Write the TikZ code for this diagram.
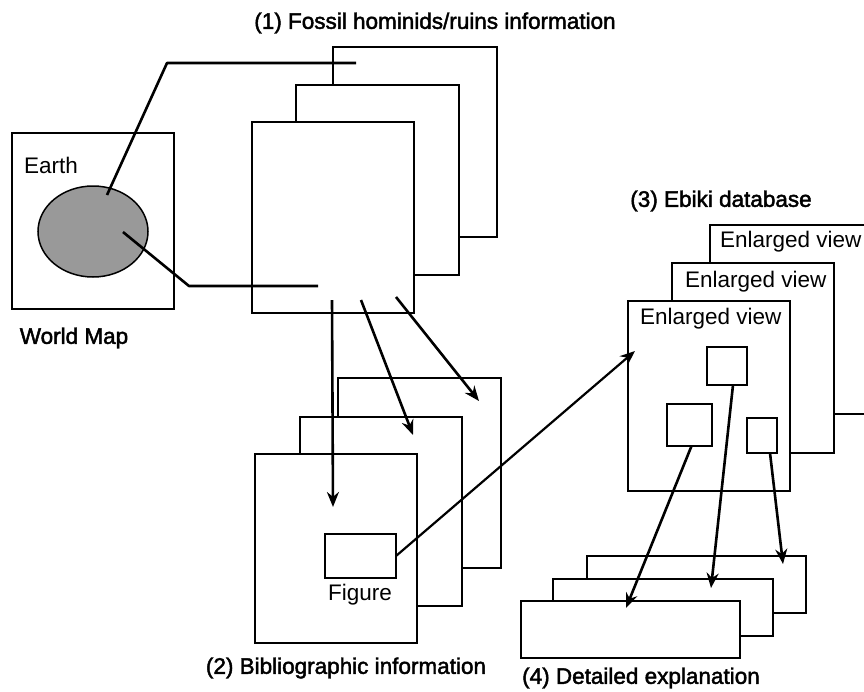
\documentclass[tikz,border=0pt]{standalone}
\usepackage{fontspec}
\setmainfont{Liberation Sans}
\newfontfamily\headfont{Liberation Sans}[FakeBold=2]
\usetikzlibrary{arrows.meta,calc,shapes.geometric}
\definecolor{earthgray}{RGB}{153,153,153}
\begin{document}
\begin{tikzpicture}[x=1pt,y=-1pt,
  pg/.style={draw,line width=2.2pt,fill=white,rectangle,inner sep=0pt,outer sep=0pt},
  conn/.style={line width=2.6pt,line join=round},
  arr/.style={conn,-{Stealth[length=15pt,width=12pt]}},
  lbl/.style={font=\fontsize{22.5}{26}\selectfont,inner sep=0pt},
  head/.style={font=\headfont\fontsize{22.5}{26}\selectfont,inner sep=0pt}]
\useasboundingbox (0,0) rectangle (864,691);
\clip (0,0) rectangle (864,691);
\fill[white] (0,0) rectangle (864,691);

% World map
\node[pg,minimum width=162pt,minimum height=176pt] (map) at (93,221) {};
\node[lbl,anchor=west] (earthlbl) at (24,165) {Earth};
\node[draw,ellipse,line width=1.5pt,fill=earthgray,minimum width=110pt,minimum height=91pt,inner sep=0pt] (earth) at (93,231.5) {};
\node[head] (maplbl) at (74,338) {World Map};

% (1) Fossil hominids/ruins information
\node[head] (t1) at (435,23) {(1) Fossil hominids/ruins information};
\node[pg,minimum width=164pt,minimum height=190pt] (s1c) at (415,142) {};
\node[pg,minimum width=163pt,minimum height=190pt] (s1b) at (377.5,180) {};
\node[pg,minimum width=162pt,minimum height=191pt] (s1a) at (333,217.5) {};

% (2) Bibliographic information
\node[pg,minimum width=163pt,minimum height=190pt] (s2c) at (419.5,473) {};
\node[pg,minimum width=162pt,minimum height=189pt] (s2b) at (381,511.5) {};
\node[pg,minimum width=162pt,minimum height=189pt] (s2a) at (336,548.5) {};
\node[pg,minimum width=71pt,minimum height=44pt] (fig) at (360.5,556) {};
\node[lbl] (figlbl) at (360,595) {Figure};
\node[head] (t2) at (346,668) {(2) Bibliographic information};

% (3) Ebiki database
\node[head] (t3) at (721,201) {(3) Ebiki database};
\node[pg,minimum width=162pt,minimum height=189pt] (s3c) at (791,319.5) {};
\node[lbl,anchor=west] (ev3) at ($(s3c.north west)+(10,17)$) {Enlarged view};
\node[pg,minimum width=162pt,minimum height=190pt] (s3b) at (753,358) {};
\node[lbl,anchor=west] (ev2) at ($(s3b.north west)+(13,19)$) {Enlarged view};
\node[pg,minimum width=162pt,minimum height=190pt] (s3a) at (709,396) {};
\node[lbl,anchor=west] (ev1) at ($(s3a.north west)+(12,18)$) {Enlarged view};
\node[pg,minimum width=40pt,minimum height=38pt] (bA) at (727,366) {};
\node[pg,minimum width=45pt,minimum height=42pt] (bB) at (689.5,425) {};
\node[pg,minimum width=30pt,minimum height=35pt] (bC) at (762,435.5) {};

% (4) Detailed explanation
\node[pg,minimum width=219pt,minimum height=57pt] (s4c) at (696.5,584.5) {};
\node[pg,minimum width=220pt,minimum height=57pt] (s4b) at (663,607.5) {};
\node[pg,minimum width=219pt,minimum height=57pt] (s4a) at (630.5,629.5) {};
\node[head] (t4) at (641,678) {(4) Detailed explanation};

% free ends
\coordinate (e1) at (107,195);
\coordinate (k1) at (167,63);
\coordinate (f1) at (356,63);
\coordinate (e2) at (123,232);
\coordinate (k2) at (189,286);
\coordinate (f2) at (318,286);
\coordinate (o1) at (332,300);
\coordinate (o2) at (361,300);
\coordinate (o3) at (396,297);
\coordinate (d1) at (333,507);
\coordinate (d2) at (413,435);
\coordinate (d3) at (479,401);
\coordinate (d4) at (635,351);
\coordinate (dB) at (626,608);
\coordinate (dA) at (711,588);
\coordinate (dC) at (783,564);

% connectors
\draw[conn] (e1) -- (k1) -- (f1);
\draw[conn] (e2) -- (k2) -- (f2);
\draw[arr] (o1) -- (d1);
\draw[arr] (o2) -- (d2);
\draw[arr] (o3) -- (d3);
\draw[arr,line width=2.2pt] (fig.east) -- (d4);
\draw[arr] ($(bB.south)+(2,0)$) -- (dB);
\draw[arr] ($(bA.south)+(6,0)$) -- (dA);
\draw[arr] ($(bC.south)+(8,0)$) -- (dC);
\end{tikzpicture}
\end{document}
